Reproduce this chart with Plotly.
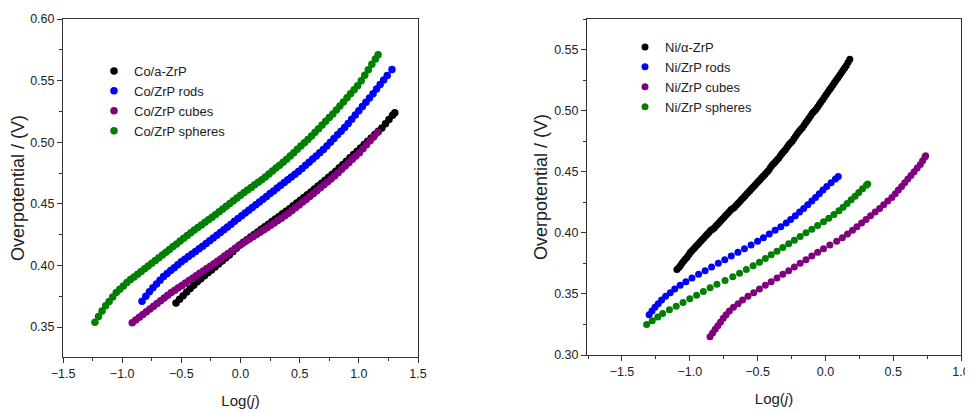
import plotly.graph_objects as go

# ---------------- Left panel (Co) ----------------
co_alpha_x = [-0.545, -0.515, -0.485, -0.455, -0.425, -0.395, -0.365, -0.335, -0.305, -0.275, -0.245, -0.215, -0.185, -0.155, -0.125, -0.095, -0.065, -0.035, -0.005, 0.025, 0.055, 0.085, 0.115, 0.145, 0.175, 0.205, 0.235, 0.265, 0.295, 0.325, 0.355, 0.385, 0.415, 0.445, 0.475, 0.505, 0.535, 0.565, 0.595, 0.625, 0.655, 0.685, 0.715, 0.745, 0.775, 0.805, 0.835, 0.865, 0.895, 0.925, 0.955, 0.985, 1.015, 1.045, 1.075, 1.105, 1.135, 1.165, 1.195, 1.225, 1.255, 1.285, 1.304]
co_alpha_y = [0.3695, 0.3725, 0.3755, 0.3785, 0.3813, 0.3840, 0.3867, 0.3892, 0.3916, 0.3940, 0.3964, 0.3988, 0.4012, 0.4036, 0.4060, 0.4085, 0.4112, 0.4139, 0.4166, 0.4188, 0.4209, 0.4230, 0.4251, 0.4272, 0.4293, 0.4314, 0.4335, 0.4356, 0.4377, 0.4398, 0.4419, 0.4440, 0.4461, 0.4484, 0.4506, 0.4529, 0.4551, 0.4574, 0.4596, 0.4620, 0.4644, 0.4668, 0.4692, 0.4716, 0.4740, 0.4765, 0.4792, 0.4819, 0.4846, 0.4873, 0.4900, 0.4927, 0.4954, 0.4981, 0.5008, 0.5035, 0.5062, 0.5089, 0.5116, 0.5149, 0.5184, 0.5218, 0.5240]

co_rods_x = [-0.832, -0.80, -0.77, -0.74, -0.71, -0.68, -0.65, -0.62, -0.59, -0.56, -0.53, -0.50, -0.47, -0.44, -0.41, -0.38, -0.35, -0.32, -0.29, -0.26, -0.23, -0.20, -0.17, -0.14, -0.11, -0.08, -0.05, -0.02, 0.01, 0.04, 0.07, 0.10, 0.13, 0.16, 0.19, 0.22, 0.25, 0.28, 0.31, 0.34, 0.37, 0.40, 0.43, 0.46, 0.49, 0.52, 0.55, 0.58, 0.61, 0.64, 0.67, 0.70, 0.73, 0.76, 0.79, 0.82, 0.85, 0.88, 0.91, 0.94, 0.97, 1.00, 1.03, 1.06, 1.09, 1.12, 1.15, 1.18, 1.21, 1.24, 1.28]
co_rods_y = [0.3710, 0.3749, 0.3786, 0.3820, 0.3850, 0.3880, 0.3910, 0.3934, 0.3958, 0.3982, 0.4006, 0.4030, 0.4051, 0.4072, 0.4093, 0.4114, 0.4135, 0.4156, 0.4178, 0.4200, 0.4223, 0.4245, 0.4268, 0.4290, 0.4313, 0.4335, 0.4358, 0.4380, 0.4403, 0.4425, 0.4448, 0.4470, 0.4493, 0.4515, 0.4538, 0.4560, 0.4583, 0.4605, 0.4628, 0.4650, 0.4673, 0.4695, 0.4718, 0.4740, 0.4763, 0.4787, 0.4813, 0.4838, 0.4864, 0.4889, 0.4915, 0.4940, 0.4970, 0.5000, 0.5030, 0.5060, 0.5090, 0.5120, 0.5152, 0.5186, 0.5221, 0.5255, 0.5290, 0.5324, 0.5359, 0.5394, 0.5431, 0.5468, 0.5505, 0.5541, 0.5590]

co_cubes_x = [-0.915, -0.885, -0.855, -0.825, -0.795, -0.765, -0.735, -0.705, -0.675, -0.645, -0.615, -0.585, -0.555, -0.525, -0.495, -0.465, -0.435, -0.405, -0.375, -0.345, -0.315, -0.285, -0.255, -0.225, -0.195, -0.165, -0.135, -0.105, -0.075, -0.045, -0.015, 0.015, 0.045, 0.075, 0.105, 0.135, 0.165, 0.195, 0.225, 0.255, 0.285, 0.315, 0.345, 0.375, 0.405, 0.435, 0.465, 0.495, 0.525, 0.555, 0.585, 0.615, 0.645, 0.675, 0.705, 0.735, 0.765, 0.795, 0.825, 0.855, 0.885, 0.915, 0.945, 0.975, 1.005, 1.035, 1.065, 1.095, 1.125, 1.160]
co_cubes_y = [0.3535, 0.3557, 0.3579, 0.3601, 0.3624, 0.3646, 0.3669, 0.3691, 0.3714, 0.3736, 0.3759, 0.3780, 0.3799, 0.3819, 0.3838, 0.3858, 0.3877, 0.3897, 0.3916, 0.3936, 0.3955, 0.3975, 0.3994, 0.4014, 0.4034, 0.4055, 0.4076, 0.4097, 0.4118, 0.4139, 0.4160, 0.4179, 0.4197, 0.4215, 0.4233, 0.4251, 0.4269, 0.4287, 0.4306, 0.4326, 0.4345, 0.4365, 0.4384, 0.4404, 0.4424, 0.4446, 0.4469, 0.4491, 0.4514, 0.4536, 0.4559, 0.4582, 0.4606, 0.4630, 0.4654, 0.4678, 0.4702, 0.4726, 0.4753, 0.4780, 0.4807, 0.4834, 0.4861, 0.4888, 0.4915, 0.4947, 0.4979, 0.5011, 0.5043, 0.5080]

co_spheres_x = [-1.23, -1.20, -1.17, -1.14, -1.11, -1.08, -1.05, -1.02, -0.99, -0.96, -0.93, -0.90, -0.87, -0.84, -0.81, -0.78, -0.75, -0.72, -0.69, -0.66, -0.63, -0.60, -0.57, -0.54, -0.51, -0.48, -0.45, -0.42, -0.39, -0.36, -0.33, -0.30, -0.27, -0.24, -0.21, -0.18, -0.15, -0.12, -0.09, -0.06, -0.03, 0.00, 0.03, 0.06, 0.09, 0.12, 0.15, 0.18, 0.21, 0.24, 0.27, 0.30, 0.33, 0.36, 0.39, 0.42, 0.45, 0.48, 0.51, 0.54, 0.57, 0.60, 0.63, 0.66, 0.69, 0.72, 0.75, 0.78, 0.81, 0.84, 0.87, 0.90, 0.93, 0.96, 0.99, 1.02, 1.05, 1.08, 1.11, 1.14, 1.163]
co_spheres_y = [0.3540, 0.3585, 0.3630, 0.3672, 0.3708, 0.3744, 0.3780, 0.3807, 0.3834, 0.3861, 0.3885, 0.3907, 0.3929, 0.3951, 0.3973, 0.3995, 0.4018, 0.4040, 0.4063, 0.4085, 0.4108, 0.4130, 0.4153, 0.4175, 0.4198, 0.4220, 0.4243, 0.4265, 0.4287, 0.4308, 0.4329, 0.4350, 0.4371, 0.4392, 0.4413, 0.4435, 0.4458, 0.4480, 0.4503, 0.4525, 0.4548, 0.4570, 0.4591, 0.4612, 0.4633, 0.4654, 0.4675, 0.4696, 0.4718, 0.4742, 0.4766, 0.4790, 0.4814, 0.4838, 0.4862, 0.4888, 0.4915, 0.4942, 0.4969, 0.4996, 0.5023, 0.5050, 0.5080, 0.5110, 0.5140, 0.5170, 0.5200, 0.5230, 0.5261, 0.5294, 0.5327, 0.5360, 0.5393, 0.5426, 0.5459, 0.5499, 0.5543, 0.5588, 0.5632, 0.5676, 0.5710]

# ---------------- Right panel (Ni) ----------------
ni_alpha_x = [-1.095, -1.0825, -1.07, -1.0575, -1.045, -1.0325, -1.02, -1.0075, -0.995, -0.9825, -0.97, -0.9575, -0.945, -0.9325, -0.92, -0.9075, -0.895, -0.8825, -0.87, -0.8575, -0.845, -0.8325, -0.82, -0.8075, -0.795, -0.7825, -0.77, -0.7575, -0.745, -0.7325, -0.72, -0.7075, -0.695, -0.6825, -0.67, -0.6575, -0.645, -0.6325, -0.62, -0.6075, -0.595, -0.5825, -0.57, -0.5575, -0.545, -0.5325, -0.52, -0.5075, -0.495, -0.4825, -0.47, -0.4575, -0.445, -0.4325, -0.42, -0.4075, -0.395, -0.3825, -0.37, -0.3575, -0.345, -0.3325, -0.32, -0.3075, -0.295, -0.2825, -0.27, -0.2575, -0.245, -0.2325, -0.22, -0.2075, -0.195, -0.1825, -0.17, -0.1575, -0.145, -0.1325, -0.12, -0.1075, -0.095, -0.0825, -0.07, -0.0575, -0.045, -0.0325, -0.02, -0.0075, 0.005, 0.0175, 0.03, 0.0425, 0.055, 0.0675, 0.08, 0.0925, 0.105, 0.1175, 0.13, 0.1425, 0.155, 0.1675, 0.18]
ni_alpha_y = [0.3700, 0.3715, 0.3730, 0.3750, 0.3770, 0.3785, 0.3800, 0.3820, 0.3840, 0.3855, 0.3870, 0.3885, 0.3900, 0.3915, 0.3930, 0.3945, 0.3960, 0.3975, 0.3990, 0.4005, 0.4020, 0.4030, 0.4040, 0.4055, 0.4070, 0.4085, 0.4100, 0.4115, 0.4130, 0.4145, 0.4160, 0.4175, 0.4190, 0.4200, 0.4210, 0.4225, 0.4240, 0.4255, 0.4270, 0.4285, 0.4300, 0.4315, 0.4330, 0.4345, 0.4360, 0.4375, 0.4390, 0.4405, 0.4420, 0.4435, 0.4450, 0.4465, 0.4480, 0.4495, 0.4510, 0.4530, 0.4550, 0.4565, 0.4580, 0.4595, 0.4610, 0.4630, 0.4650, 0.4665, 0.4680, 0.4700, 0.4720, 0.4735, 0.4750, 0.4770, 0.4790, 0.4810, 0.4830, 0.4845, 0.4860, 0.4880, 0.4900, 0.4920, 0.4940, 0.4960, 0.4980, 0.4995, 0.5010, 0.5030, 0.5050, 0.5070, 0.5090, 0.5110, 0.5130, 0.5150, 0.5170, 0.5190, 0.5210, 0.5230, 0.5250, 0.5270, 0.5290, 0.5310, 0.5330, 0.5350, 0.5370, 0.5395, 0.5420]

ni_rods_x = [-1.300, -1.279, -1.257, -1.233, -1.208, -1.178, -1.144, -1.111, -1.071, -1.029, -0.984, -0.935, -0.887, -0.839, -0.790, -0.742, -0.694, -0.645, -0.597, -0.548, -0.500, -0.457, -0.414, -0.371, -0.329, -0.289, -0.256, -0.222, -0.190, -0.160, -0.130, -0.100, -0.073, -0.045, -0.018, 0.010, 0.042, 0.074, 0.095]
ni_rods_y = [0.333, 0.336, 0.339, 0.342, 0.345, 0.348, 0.351, 0.354, 0.357, 0.360, 0.363, 0.366, 0.369, 0.372, 0.375, 0.378, 0.381, 0.384, 0.387, 0.390, 0.393, 0.396, 0.399, 0.402, 0.405, 0.408, 0.411, 0.414, 0.417, 0.420, 0.423, 0.426, 0.429, 0.432, 0.435, 0.438, 0.441, 0.444, 0.446]

ni_cubes_x = [-0.851, -0.832, -0.813, -0.793, -0.773, -0.753, -0.732, -0.708, -0.678, -0.644, -0.611, -0.571, -0.529, -0.486, -0.443, -0.400, -0.357, -0.314, -0.271, -0.229, -0.186, -0.143, -0.100, -0.057, -0.014, 0.033, 0.083, 0.125, 0.163, 0.200, 0.233, 0.267, 0.300, 0.333, 0.367, 0.400, 0.430, 0.460, 0.490, 0.515, 0.538, 0.562, 0.585, 0.608, 0.631, 0.654, 0.677, 0.700, 0.717, 0.734, 0.739]
ni_cubes_y = [0.315, 0.318, 0.321, 0.324, 0.327, 0.330, 0.333, 0.336, 0.339, 0.342, 0.345, 0.348, 0.351, 0.354, 0.357, 0.360, 0.363, 0.366, 0.369, 0.372, 0.375, 0.378, 0.381, 0.384, 0.387, 0.390, 0.393, 0.396, 0.399, 0.402, 0.405, 0.408, 0.411, 0.414, 0.417, 0.420, 0.423, 0.426, 0.429, 0.432, 0.435, 0.438, 0.441, 0.444, 0.447, 0.450, 0.453, 0.456, 0.459, 0.462, 0.463]

ni_spheres_x = [-1.318, -1.277, -1.236, -1.200, -1.150, -1.100, -1.050, -1.000, -0.950, -0.900, -0.850, -0.800, -0.740, -0.683, -0.633, -0.583, -0.533, -0.486, -0.443, -0.400, -0.357, -0.314, -0.271, -0.229, -0.186, -0.143, -0.100, -0.057, -0.014, 0.025, 0.063, 0.100, 0.130, 0.160, 0.190, 0.219, 0.246, 0.274, 0.302, 0.312]
ni_spheres_y = [0.325, 0.328, 0.331, 0.334, 0.337, 0.340, 0.343, 0.346, 0.349, 0.352, 0.355, 0.358, 0.361, 0.364, 0.367, 0.370, 0.373, 0.376, 0.379, 0.382, 0.385, 0.388, 0.391, 0.394, 0.397, 0.400, 0.403, 0.406, 0.409, 0.412, 0.415, 0.418, 0.421, 0.424, 0.427, 0.430, 0.433, 0.436, 0.439, 0.440]

co_names = ["Co/a-ZrP", "Co/ZrP rods", "Co/ZrP cubes", "Co/ZrP spheres"]
ni_names = ["Ni/\u03b1-ZrP", "Ni/ZrP rods", "Ni/ZrP cubes", "Ni/ZrP spheres"]
colors = ["#000000", "#0000FF", "#800080", "#008000"]

co_series = [(co_alpha_x, co_alpha_y), (co_rods_x, co_rods_y), (co_cubes_x, co_cubes_y), (co_spheres_x, co_spheres_y)]
ni_series = [(ni_alpha_x, ni_alpha_y), (ni_rods_x, ni_rods_y), (ni_cubes_x, ni_cubes_y), (ni_spheres_x, ni_spheres_y)]

FONT = "Liberation Sans, Arial, sans-serif"
fig = go.Figure()

for (x, y), name, c in zip(co_series, co_names, colors):
    fig.add_trace(go.Scatter(x=x, y=y, mode="markers", name=name,
                             marker=dict(color=c, size=7.5, line=dict(width=0)),
                             xaxis="x", yaxis="y", legend="legend"))
for (x, y), name, c in zip(ni_series, ni_names, colors):
    fig.add_trace(go.Scatter(x=x, y=y, mode="markers", name=name,
                             marker=dict(color=c, size=7, line=dict(width=0)),
                             xaxis="x2", yaxis="y2", legend="legend2"))

# The page body has an 8px default margin, so the figure is drawn 8px in
# from the top-left of the 973x413 window.
OFF = 8
W, H = 973 - OFF, 413 - OFF


def fx(px):
    return (px - OFF) / W


def fy(py):
    return 1 - (py - OFF) / H


axcol = "#333333"
txtcol = "#222222"
common = dict(showline=True, linecolor=axcol, linewidth=1, mirror=True,
              ticks="outside", ticklen=5, tickcolor=axcol, tickwidth=1,
              showgrid=False, zeroline=False, automargin=False,
              tickfont=dict(family=FONT, size=12.5, color=txtcol))
xtitle_font = dict(family=FONT, size=15, color=txtcol)
ytitle_font = dict(family=FONT, size=18, color=txtcol)

fig.update_layout(
    template="none",
    width=W, height=H,
    margin=dict(l=0, r=0, t=0, b=0, autoexpand=False),
    paper_bgcolor="white", plot_bgcolor="white",
    font=dict(family=FONT, color=txtcol),
    xaxis=dict(domain=[fx(63), fx(418)], range=[-1.5, 1.5], anchor="y",
               tick0=0, dtick=0.5, tickformat=".1f",
               minor=dict(dtick=0.25, ticks="outside", ticklen=3, tickcolor=axcol),
               title=dict(text="Log(<i>j</i>)", font=xtitle_font, standoff=15),
               **common),
    yaxis=dict(domain=[fy(357), fy(19)], range=[0.3257, 0.60], anchor="x",
               tick0=0.35, dtick=0.05, tickformat=".2f",
               minor=dict(dtick=0.025, ticks="outside", ticklen=3, tickcolor=axcol),
               title=dict(text="Overpotential / (V)", font=ytitle_font, standoff=7),
               **common),
    xaxis2=dict(domain=[fx(587), fx(961)], range=[-1.758, 1.0], anchor="y2",
                tick0=0, dtick=0.5, tickformat=".1f",
                minor=dict(dtick=0.25, ticks="outside", ticklen=3, tickcolor=axcol),
                title=dict(text="Log(<i>j</i>)", font=xtitle_font, standoff=15),
                **common),
    yaxis2=dict(domain=[fy(355), fy(19)], range=[0.30, 0.575], anchor="x2",
                tick0=0.30, dtick=0.05, tickformat=".2f",
                minor=dict(dtick=0.025, ticks="outside", ticklen=3, tickcolor=axcol),
                title=dict(text="Overpotential / (V)", font=ytitle_font, standoff=1),
                **common),
    legend=dict(x=fx(94), y=fy(56), xanchor="left", yanchor="top",
                bgcolor="rgba(0,0,0,0)", font=dict(family=FONT, size=13, color=txtcol),
                itemwidth=30, tracegroupgap=0),
    legend2=dict(x=fx(625), y=fy(32), xanchor="left", yanchor="top",
                 bgcolor="rgba(0,0,0,0)", font=dict(family=FONT, size=13, color=txtcol),
                 itemwidth=30, tracegroupgap=0),
    showlegend=True,
)

fig.write_html("out.html")
